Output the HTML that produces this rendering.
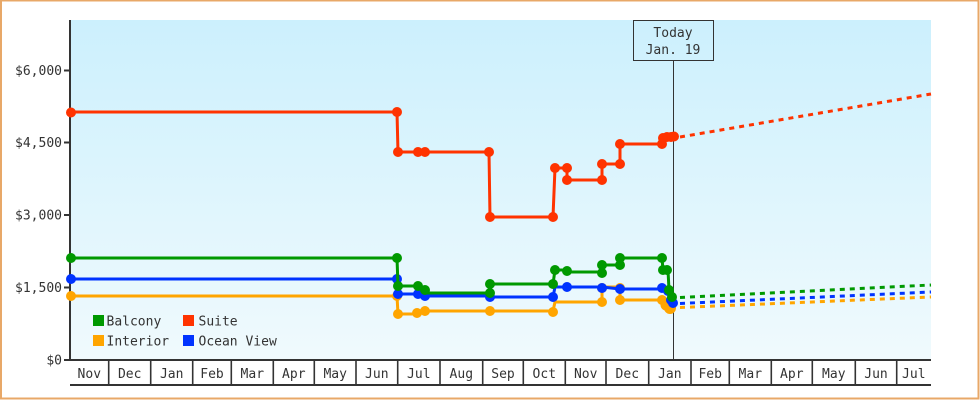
<!DOCTYPE html>
<html><head><meta charset="utf-8"><style>
html,body{margin:0;padding:0;background:#fff;}
#f{position:relative;width:980px;height:400px;overflow:hidden;}
svg{display:block;}
text{font-family:"DejaVu Sans Mono","Liberation Mono",monospace;font-size:13px;fill:#333;}
</style></head><body><div id="f">
<svg width="980" height="400" viewBox="0 0 980 400" xmlns="http://www.w3.org/2000/svg">
<defs>
<linearGradient id="bg" x1="0" y1="0" x2="0" y2="1">
<stop offset="0" stop-color="#ccf0fd"/>
<stop offset="1" stop-color="#f0fafd"/>
</linearGradient>
</defs>
<rect x="0" y="0" width="980" height="400" fill="#fff"/>
<rect x="1" y="0.5" width="977.5" height="398" fill="none" stroke="#e8a868" stroke-width="2"/>
<rect x="71" y="20" width="860" height="340" fill="url(#bg)"/>

<!-- Today marker -->
<line x1="673.5" y1="61" x2="673.5" y2="360" stroke="#333" stroke-width="1"/>
<rect x="633.5" y="20.5" width="80" height="40" fill="none" stroke="#333" stroke-width="1"/>
<text x="673" y="37" text-anchor="middle">Today</text>
<text x="673" y="54" text-anchor="middle">Jan. 19</text>

<!-- y axis -->
<line x1="70" y1="20" x2="70" y2="361" stroke="#333" stroke-width="2"/>
<g stroke="#333" stroke-width="2">
<line x1="64" y1="70.5" x2="70" y2="70.5"/>
<line x1="64" y1="142.5" x2="70" y2="142.5"/>
<line x1="64" y1="215" x2="70" y2="215"/>
<line x1="64" y1="287.5" x2="70" y2="287.5"/>
<line x1="64" y1="360" x2="70" y2="360"/>
</g>
<g text-anchor="end">
<text x="62" y="75">$6,000</text>
<text x="62" y="147">$4,500</text>
<text x="62" y="219.5">$3,000</text>
<text x="62" y="292">$1,500</text>
<text x="62" y="364.5">$0</text>
</g>

<!-- x band -->
<line x1="69" y1="360" x2="931" y2="360" stroke="#333" stroke-width="2"/>
<line x1="70" y1="385" x2="931" y2="385" stroke="#333" stroke-width="2"/>
<g stroke="#333" stroke-width="1.6">
<line x1="108.7" y1="360" x2="108.7" y2="385"/>
<line x1="150.7" y1="360" x2="150.7" y2="385"/>
<line x1="192.7" y1="360" x2="192.7" y2="385"/>
<line x1="231.3" y1="360" x2="231.3" y2="385"/>
<line x1="273.3" y1="360" x2="273.3" y2="385"/>
<line x1="314.3" y1="360" x2="314.3" y2="385"/>
<line x1="356" y1="360" x2="356" y2="385"/>
<line x1="397.7" y1="360" x2="397.7" y2="385"/>
<line x1="440" y1="360" x2="440" y2="385"/>
<line x1="482.7" y1="360" x2="482.7" y2="385"/>
<line x1="523.3" y1="360" x2="523.3" y2="385"/>
<line x1="565.3" y1="360" x2="565.3" y2="385"/>
<line x1="606" y1="360" x2="606" y2="385"/>
<line x1="648.7" y1="360" x2="648.7" y2="385"/>
<line x1="691" y1="360" x2="691" y2="385"/>
<line x1="729.3" y1="360" x2="729.3" y2="385"/>
<line x1="771.3" y1="360" x2="771.3" y2="385"/>
<line x1="812.3" y1="360" x2="812.3" y2="385"/>
<line x1="855.3" y1="360" x2="855.3" y2="385"/>
<line x1="896.7" y1="360" x2="896.7" y2="385"/>
</g>
<g text-anchor="middle">
<text x="89.3" y="378">Nov</text>
<text x="129.7" y="378">Dec</text>
<text x="171.7" y="378">Jan</text>
<text x="212" y="378">Feb</text>
<text x="252.3" y="378">Mar</text>
<text x="293.8" y="378">Apr</text>
<text x="335.2" y="378">May</text>
<text x="376.8" y="378">Jun</text>
<text x="418.8" y="378">Jul</text>
<text x="461.3" y="378">Aug</text>
<text x="503" y="378">Sep</text>
<text x="544.3" y="378">Oct</text>
<text x="585.7" y="378">Nov</text>
<text x="627.3" y="378">Dec</text>
<text x="669.8" y="378">Jan</text>
<text x="710.2" y="378">Feb</text>
<text x="750.3" y="378">Mar</text>
<text x="791.8" y="378">Apr</text>
<text x="833.8" y="378">May</text>
<text x="876" y="378">Jun</text>
<text x="913.8" y="378">Jul</text>
</g>

<!-- projections -->
<g fill="none" stroke-width="3" stroke-dasharray="5 5">
<line x1="680" y1="137" x2="931" y2="94" stroke="#ff3300"/>
<line x1="680" y1="297.5" x2="931" y2="285" stroke="#009900"/>
<line x1="680" y1="303.5" x2="931" y2="292" stroke="#0033ff"/>
<line x1="680" y1="307.5" x2="931" y2="297" stroke="#ffa500"/>
</g>

<!-- Interior -->
<g stroke="#ffa500" fill="#ffa500">
<path fill="none" stroke-width="3" d="M71,296 H397 L398,314 H418 L425,311 H553 L555,302 H602 V287 H620 V300 H662 L666,306 L672,308"/>
<circle cx="71" cy="296" r="4.5"/><circle cx="397" cy="296" r="4.5"/><circle cx="398" cy="314" r="4.5"/>
<circle cx="417" cy="313" r="4.5"/><circle cx="425" cy="311" r="4.5"/><circle cx="490" cy="311" r="4.5"/>
<circle cx="553" cy="312" r="4.5"/><circle cx="602" cy="302" r="4.5"/><circle cx="602" cy="288" r="4.5"/>
<circle cx="620" cy="288" r="4.5"/><circle cx="620" cy="300" r="4.5"/><circle cx="662" cy="300" r="4.5"/>
<circle cx="666" cy="305" r="5"/><circle cx="670" cy="308" r="5.5"/>
</g>
<!-- Ocean View -->
<g stroke="#0033ff" fill="#0033ff">
<path fill="none" stroke-width="3" d="M71,279 H397 L398,294 H418 L425,296 H490 V297 H553 L555,287 H602 L620,289 H662 L668,290 L672,303 L676,303"/>
<circle cx="71" cy="279" r="4.5"/><circle cx="397" cy="279" r="4.5"/><circle cx="398" cy="294" r="4.5"/>
<circle cx="418" cy="294" r="4.5"/><circle cx="425" cy="296" r="4.5"/><circle cx="490" cy="297" r="4.5"/>
<circle cx="553" cy="297" r="4.5"/><circle cx="567" cy="287" r="4.5"/><circle cx="602" cy="288" r="4.5"/>
<circle cx="620" cy="289" r="4.5"/><circle cx="662" cy="288" r="4.5"/><circle cx="668" cy="291" r="4.5"/>
<circle cx="671" cy="300" r="4.5"/><circle cx="673" cy="303" r="4.5"/>
</g>
<!-- Balcony -->
<g stroke="#009900" fill="#009900">
<path fill="none" stroke-width="3" d="M71,258 H397 L398,286 H418 L425,293 H490 V284 H553 L555,270 H567 L567,272 H602 V265 H620 V258 H662 L663,270 H668 L669,290 L673,298"/>
<circle cx="71" cy="258" r="4.5"/><circle cx="397" cy="258" r="4.5"/><circle cx="398" cy="286" r="4.5"/>
<circle cx="418" cy="286" r="4.5"/><circle cx="425" cy="290" r="4.5"/><circle cx="490" cy="284" r="4.5"/>
<circle cx="490" cy="293" r="4.5"/><circle cx="553" cy="284" r="4.5"/><circle cx="555" cy="270" r="4.5"/>
<circle cx="567" cy="271" r="4.5"/><circle cx="602" cy="273" r="4.5"/><circle cx="602" cy="265" r="4.5"/>
<circle cx="620" cy="265" r="4.5"/><circle cx="620" cy="258" r="4.5"/><circle cx="662" cy="258" r="4.5"/>
<circle cx="663" cy="270" r="4.5"/><circle cx="667" cy="270" r="4.5"/><circle cx="669" cy="290" r="4.5"/>
<circle cx="672" cy="297" r="4.5"/>
</g>
<!-- Suite -->
<g stroke="#ff3300" fill="#ff3300">
<path fill="none" stroke-width="3" d="M71,112 H397 L398,152 H489 L490,217 H553 L555,168 H567 L567,180 H602 V164 H620 V144 H662 L663,138 L677,136"/>
<circle cx="71" cy="112.5" r="4.5"/><circle cx="397" cy="112" r="4.5"/><circle cx="398" cy="152" r="4.5"/>
<circle cx="418" cy="152" r="4.5"/><circle cx="425" cy="152" r="4.5"/><circle cx="489" cy="152" r="4.5"/>
<circle cx="490" cy="217" r="4.5"/><circle cx="553" cy="217" r="4.5"/><circle cx="555" cy="168" r="4.5"/>
<circle cx="567" cy="168" r="4.5"/><circle cx="567" cy="180" r="4.5"/><circle cx="602" cy="180" r="4.5"/>
<circle cx="602" cy="164" r="4.5"/><circle cx="620" cy="164" r="4.5"/><circle cx="620" cy="144" r="4.5"/>
<circle cx="662" cy="144" r="4.5"/><circle cx="663" cy="138" r="4.5"/><circle cx="667" cy="137" r="4.5"/>
<circle cx="671" cy="137" r="4.5"/><circle cx="674" cy="136.5" r="4.5"/>
</g>

<!-- legend -->
<rect x="93" y="315" width="11" height="11" fill="#009900"/>
<text x="106.5" y="325.5">Balcony</text>
<rect x="183" y="315" width="11" height="11" fill="#ff3300"/>
<text x="198.5" y="325.5">Suite</text>
<rect x="93" y="335" width="11" height="11" fill="#ffa500"/>
<text x="106.5" y="345.5">Interior</text>
<rect x="183" y="335" width="11" height="11" fill="#0033ff"/>
<text x="198.5" y="345.5">Ocean View</text>
</svg>
</div></body></html>
